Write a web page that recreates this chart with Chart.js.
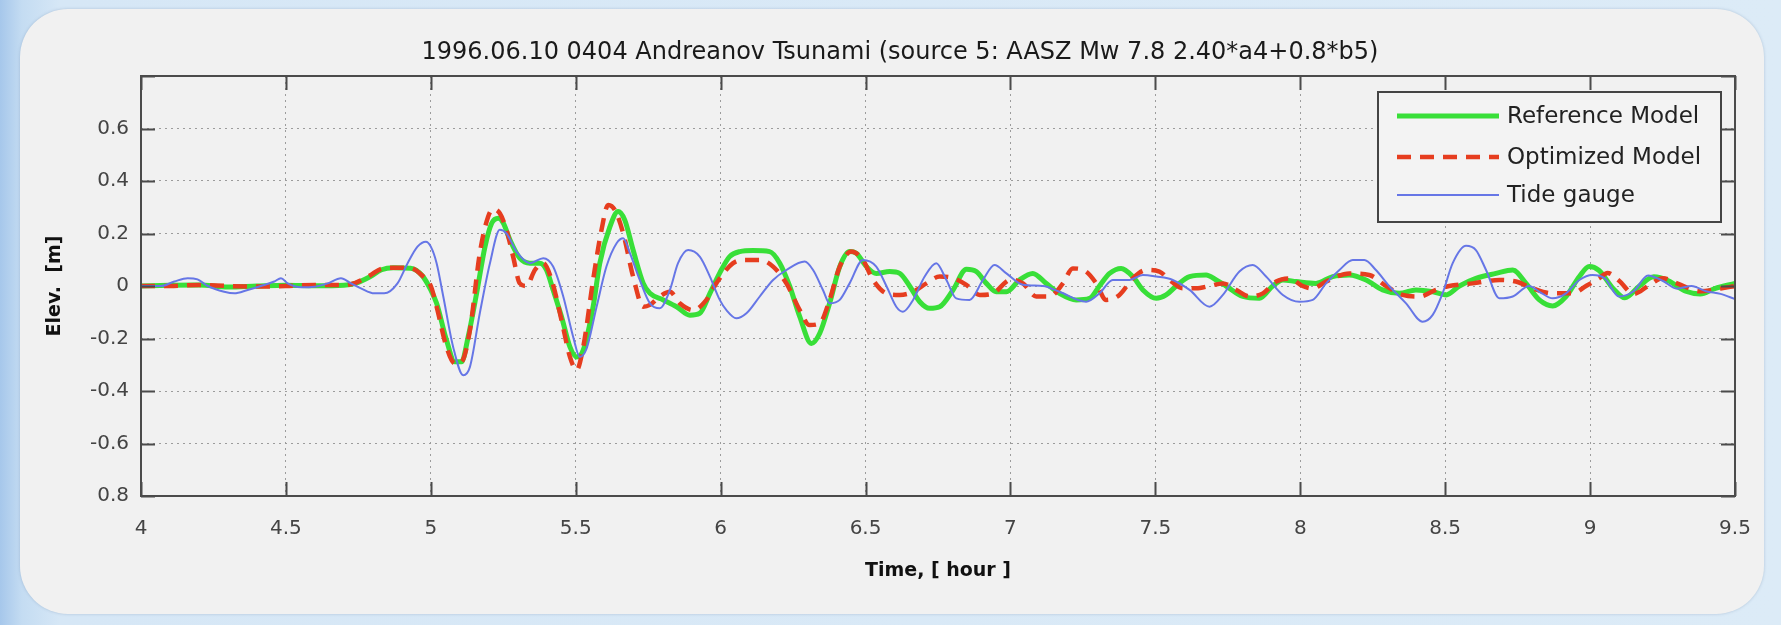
<!DOCTYPE html>
<html lang="en">

<head>
    <meta charset="UTF-8">
    <title>1996.06.10 Andreanov Tsunami</title>
    <script src="https://cdn.jsdelivr.net/npm/chart.js"></script>
    <style>
        html, body {
            margin: 0;
            padding: 0;
            width: 1781px;
            height: 625px;
            overflow: hidden;
            background: linear-gradient(to right, #a6c7eb 0px, #c4dcf2 22px, #d6e7f6 60px, #dcebf7 100%);
        }

        #panel {
            position: absolute;
            left: 20px;
            top: 9px;
            width: 1744px;
            height: 605px;
            border-radius: 48px;
            background: #f1f1f1;
            box-shadow: 0 0 3px rgba(90, 120, 160, 0.35);
        }

        #chart {
            position: absolute;
            left: 0;
            top: 0;
        }
    </style>
</head>

<body>
    <div id="panel"></div>
    <canvas id="chart" width="1781" height="625"></canvas>

    <script>
        // title / labels
        const chartTitle = '1996.06.10 0404 Andreanov Tsunami (source 5: AASZ Mw 7.8 2.40*a4+0.8*b5)';
        const seriesNames = ['Reference Model', 'Optimized Model', 'Tide gauge'];

        // axis ticks
        const xTickValues = [4, 4.5, 5, 5.5, 6, 6.5, 7, 7.5, 8, 8.5, 9, 9.5];
        const xTickLabels = ['4', '4.5', '5', '5.5', '6', '6.5', '7', '7.5', '8', '8.5', '9', '9.5'];
        const yTickValues = [-0.8, -0.6, -0.4, -0.2, 0, 0.2, 0.4, 0.6, 0.8];
        const yTickLabels = ['0.8', '-0.6', '-0.4', '-0.2', '0', '0.2', '0.4', '0.6', ''];

        // Reference Model (green)
        const refTime = [4.0, 4.1, 4.2, 4.3, 4.4, 4.5, 4.6, 4.7, 4.74, 4.79, 4.83, 4.87, 4.93, 4.97, 5.0,
            5.02, 5.054, 5.083, 5.106, 5.129, 5.158, 5.187, 5.21, 5.233, 5.25, 5.273, 5.307, 5.342, 5.376,
            5.399, 5.422, 5.451, 5.48, 5.503, 5.526, 5.56, 5.583, 5.618, 5.646, 5.669, 5.698, 5.733, 5.756,
            5.802, 5.848, 5.894, 5.928, 5.963, 5.997, 6.031, 6.066, 6.112, 6.169, 6.204, 6.238, 6.273, 6.313,
            6.342, 6.376, 6.411, 6.445, 6.468, 6.503, 6.537, 6.583, 6.618, 6.652, 6.687, 6.721, 6.756, 6.802,
            6.848, 6.882, 6.917, 6.951, 6.986, 7.031, 7.077, 7.123, 7.169, 7.227, 7.273, 7.307, 7.342, 7.382,
            7.422, 7.457, 7.503, 7.537, 7.572, 7.618, 7.675, 7.71, 7.744, 7.802, 7.859, 7.905, 7.94, 7.986,
            8.054, 8.112, 8.169, 8.227, 8.284, 8.342, 8.399, 8.457, 8.503, 8.549, 8.606, 8.675, 8.733, 8.779,
            8.825, 8.871, 8.917, 8.963, 8.997, 9.03, 9.08, 9.12, 9.17, 9.22, 9.27, 9.33, 9.38, 9.43, 9.5];
        const refElev = [0, 0.003, 0.004, -0.004, 0, 0.003, 0.001, 0.003, 0.01, 0.035, 0.062, 0.07, 0.068, 0.04, -0.015,
            -0.066, -0.206, -0.289, -0.289, -0.193, -0.028, 0.15, 0.239, 0.258, 0.24, 0.176, 0.106, 0.087, 0.087,
            0.061, -0.015, -0.117, -0.232, -0.27, -0.244, -0.079, 0.087, 0.226, 0.284, 0.252, 0.137, 0.01, -0.028,
            -0.053, -0.079, -0.111, -0.104, -0.028, 0.05, 0.112, 0.131, 0.135, 0.131, 0.087, 0, -0.117, -0.219,
            -0.18, -0.066, 0.074, 0.131, 0.125, 0.074, 0.048, 0.055, 0.048, 0, -0.06, -0.085, -0.079, -0.015,
            0.064, 0.055, 0.01, -0.022, -0.022, 0.023, 0.048, 0.01, -0.028, -0.053, -0.047, 0, 0.048, 0.067,
            0.036, -0.015, -0.047, -0.034, 0, 0.036, 0.042, 0.023, 0, -0.04, -0.047, 0, 0.023, 0.017,
            0.01, 0.036, 0.042, 0.023, -0.015, -0.028, -0.015, -0.022, -0.034, 0, 0.029, 0.048, 0.061, 0.01,
            -0.053, -0.076, -0.04, 0.036, 0.074, 0.06, -0.01, -0.045, 0, 0.035, 0.02, -0.02, -0.03, -0.01, 0.01];

        // Optimized Model (red dashed)
        const optTime = [4.0, 4.1, 4.2, 4.3, 4.4, 4.5, 4.6, 4.7, 4.74, 4.79, 4.83, 4.87, 4.93, 4.97, 5.0,
            5.02, 5.054, 5.083, 5.106, 5.135, 5.169, 5.198, 5.215, 5.238, 5.261, 5.284, 5.307, 5.33, 5.359,
            5.388, 5.417, 5.451, 5.48, 5.503, 5.526, 5.56, 5.589, 5.612, 5.635, 5.664, 5.698, 5.733, 5.756,
            5.79, 5.825, 5.859, 5.905, 5.951, 5.985, 6.043, 6.089, 6.135, 6.181, 6.227, 6.273, 6.307, 6.342,
            6.376, 6.411, 6.451, 6.491, 6.526, 6.572, 6.618, 6.664, 6.71, 6.756, 6.802, 6.848, 6.894, 6.94,
            6.986, 7.0, 7.043, 7.089, 7.135, 7.181, 7.215, 7.261, 7.296, 7.33, 7.376, 7.422, 7.468, 7.514,
            7.549, 7.595, 7.641, 7.687, 7.733, 7.779, 7.825, 7.871, 7.917, 7.963, 8.008, 8.043, 8.089, 8.169,
            8.238, 8.296, 8.353, 8.411, 8.468, 8.514, 8.595, 8.687, 8.744, 8.802, 8.871, 8.94, 8.986, 9.031,
            9.06, 9.1, 9.15, 9.2, 9.25, 9.3, 9.38, 9.45, 9.5];
        const optElev = [0, 0, 0.004, 0, -0.002, 0, 0.004, 0.004, 0.012, 0.04, 0.066, 0.07, 0.068, 0.04, 0,
            -0.079, -0.232, -0.295, -0.289, -0.168, 0.125, 0.265, 0.293, 0.277, 0.214, 0.112, 0.01, 0, 0.061,
            0.087, 0.023, -0.13, -0.27, -0.32, -0.232, 0.023, 0.214, 0.309, 0.29, 0.2, 0.036, -0.079, -0.072,
            -0.04, -0.022, -0.066, -0.092, -0.053, 0.01, 0.087, 0.099, 0.099, 0.074, 0.01, -0.092, -0.149, -0.142,
            -0.053, 0.074, 0.131, 0.099, 0.023, -0.028, -0.034, -0.022, 0.01, 0.036, 0.03, 0.004, -0.034, -0.028,
            0.017, 0.025, 0.01, -0.04, -0.04, 0.01, 0.067, 0.055, 0.01, -0.053, -0.034, 0.029, 0.061, 0.055,
            0.023, -0.009, -0.009, 0, 0.01, -0.015, -0.04, -0.028, 0.017, 0.029, 0, -0.009, 0.017, 0.048,
            0.042, 0, -0.034, -0.04, -0.015, 0, 0.01, 0.023, 0.017, -0.009, -0.028, -0.028, 0, 0.029,
            0.05, 0.02, -0.03, 0, 0.03, 0.01, -0.02, -0.01, 0];

        // Tide gauge (blue)
        const tideTime = [4.0, 4.069, 4.115, 4.161, 4.195, 4.23, 4.287, 4.322, 4.368, 4.414, 4.46, 4.483, 4.506,
            4.552, 4.598, 4.644, 4.69, 4.724, 4.759, 4.805, 4.839, 4.885, 4.92, 4.954, 4.983, 5.0, 5.02, 5.043,
            5.077, 5.112, 5.135, 5.169, 5.204, 5.238, 5.261, 5.296, 5.342, 5.388, 5.422, 5.457, 5.491, 5.514,
            5.537, 5.572, 5.606, 5.641, 5.664, 5.687, 5.721, 5.756, 5.79, 5.825, 5.853, 5.888, 5.928, 5.963,
            5.997, 6.02, 6.054, 6.089, 6.135, 6.181, 6.227, 6.29, 6.319, 6.353, 6.376, 6.411, 6.445, 6.491,
            6.537, 6.572, 6.606, 6.629, 6.664, 6.704, 6.744, 6.779, 6.813, 6.859, 6.905, 6.945, 6.986, 7.043,
            7.112, 7.169, 7.261, 7.307, 7.353, 7.411, 7.457, 7.503, 7.56, 7.618, 7.687, 7.733, 7.79, 7.836,
            7.882, 7.94, 7.997, 8.043, 8.089, 8.135, 8.181, 8.221, 8.261, 8.307, 8.365, 8.422, 8.457, 8.491,
            8.526, 8.572, 8.606, 8.641, 8.687, 8.733, 8.79, 8.825, 8.871, 8.917, 8.963, 9.008, 9.05, 9.1,
            9.15, 9.2, 9.25, 9.3, 9.35, 9.4, 9.45, 9.5];
        const tideElev = [0, 0, 0.017, 0.03, 0.025, 0, -0.022, -0.028, -0.015, 0, 0.017, 0.03, 0.01,
            -0.005, -0.003, 0.01, 0.03, 0.01, -0.009, -0.028, -0.028, 0.01, 0.087, 0.15, 0.169, 0.15, 0.087, -0.04,
            -0.232, -0.34, -0.308, -0.104, 0.087, 0.214, 0.2, 0.131, 0.087, 0.106, 0.074, -0.04, -0.193, -0.27,
            -0.24, -0.079, 0.074, 0.163, 0.182, 0.125, 0.023, -0.066, -0.085, -0.015, 0.087, 0.137, 0.112, 0.036,
            -0.053, -0.092, -0.123, -0.104, -0.04, 0.023, 0.061, 0.093, 0.061, -0.015, -0.066, -0.053, 0.01, 0.099,
            0.074, 0, -0.079, -0.098, -0.053, 0.036, 0.087, 0.023, -0.047, -0.053, 0.023, 0.08, 0.048, 0.005,
            0, -0.022, -0.06, -0.028, 0.023, 0.023, 0.042, 0.036, 0.023, -0.015, -0.079, -0.034, 0.055, 0.08,
            0.036, -0.034, -0.06, -0.053, 0.01, 0.061, 0.099, 0.099, 0.061, 0, -0.066, -0.136, -0.11, -0.028,
            0.087, 0.153, 0.137, 0.061, -0.047, -0.04, 0, -0.022, -0.047, -0.028, 0.023, 0.042, 0.03, -0.04,
            -0.02, 0.04, 0.02, -0.01, 0, -0.02, -0.03, -0.05];

        // 把時間和數值組成點
        function toPoints(times, values) {
            return times.map((t, i) => ({ x: t, y: values[i] }));
        }

        const FONT = '"DejaVu Sans", "Liberation Sans", sans-serif';

        // 外框、內向刻度、標題、圖例
        const matlabFrame = {
            id: 'matlabFrame',
            afterDatasetsDraw(chart) {
                const { ctx, chartArea: a, scales: { x, y } } = chart;
                ctx.save();
                ctx.strokeStyle = '#4b4b4b';
                ctx.lineWidth = 2;
                ctx.setLineDash([]);
                ctx.strokeRect(a.left, a.top, a.right - a.left, a.bottom - a.top);

                const tick = 14;
                ctx.beginPath();
                xTickValues.forEach(v => {
                    const px = Math.round(x.getPixelForValue(v)) + 0.5;
                    ctx.moveTo(px, a.bottom); ctx.lineTo(px, a.bottom - tick);
                    ctx.moveTo(px, a.top); ctx.lineTo(px, a.top + tick);
                });
                yTickValues.forEach(v => {
                    const py = Math.round(y.getPixelForValue(v)) + 0.5;
                    ctx.moveTo(a.left, py); ctx.lineTo(a.left + tick, py);
                    ctx.moveTo(a.right, py); ctx.lineTo(a.right - tick, py);
                });
                ctx.stroke();

                // legend box
                const box = { left: 1378, top: 92, right: 1721, bottom: 222 };
                ctx.fillStyle = '#f3f3f3';
                ctx.fillRect(box.left, box.top, box.right - box.left, box.bottom - box.top);
                ctx.strokeStyle = '#444';
                ctx.lineWidth = 2;
                ctx.strokeRect(box.left, box.top, box.right - box.left, box.bottom - box.top);

                const rowY = [116, 157, 195];
                chart.data.datasets.forEach((ds, i) => {
                    ctx.beginPath();
                    ctx.strokeStyle = ds.borderColor;
                    ctx.lineWidth = ds.borderWidth;
                    ctx.setLineDash(ds.borderDash || []);
                    ctx.moveTo(1397, rowY[i]);
                    ctx.lineTo(1499, rowY[i]);
                    ctx.stroke();
                    ctx.setLineDash([]);
                    ctx.fillStyle = '#222';
                    ctx.font = '23px ' + FONT;
                    ctx.textAlign = 'left';
                    ctx.textBaseline = 'middle';
                    ctx.fillText(ds.label, 1507, rowY[i] + 1);
                });
                ctx.restore();
            },
            afterDraw(chart) {
                const ctx = chart.ctx;
                ctx.save();
                ctx.fillStyle = '#1a1a1a';
                ctx.font = '24px ' + FONT;
                ctx.textAlign = 'center';
                ctx.textBaseline = 'middle';
                ctx.fillText(chartTitle, 900, 53);
                ctx.restore();
            }
        };

        const ctx = document.getElementById('chart').getContext('2d');
        new Chart(ctx, {
            type: 'line',
            data: {
                datasets: [{
                    label: seriesNames[0],
                    data: toPoints(refTime, refElev),
                    borderColor: '#38df38',
                    borderWidth: 5,
                    order: 2
                }, {
                    label: seriesNames[1],
                    data: toPoints(optTime, optElev),
                    borderColor: '#e63d1f',
                    borderWidth: 4.5,
                    borderDash: [14, 9],
                    order: 1
                }, {
                    label: seriesNames[2],
                    data: toPoints(tideTime, tideElev),
                    borderColor: '#6676e6',
                    borderWidth: 2,
                    order: 0
                }]
            },
            options: {
                responsive: false,
                animation: false,
                devicePixelRatio: 1,
                elements: {
                    point: { radius: 0 },
                    line: { cubicInterpolationMode: 'monotone', borderCapStyle: 'butt' }
                },
                layout: { padding: { top: 76, right: 46, left: 20, bottom: 40 } },
                plugins: {
                    legend: { display: false },
                    title: { display: false },
                    tooltip: { enabled: false }
                },
                scales: {
                    x: {
                        type: 'linear',
                        min: 4,
                        max: 9.5,
                        afterBuildTicks: s => { s.ticks = xTickValues.map(v => ({ value: v })); },
                        afterFit: s => { s.height = 89; },
                        ticks: {
                            padding: 21,
                            color: '#444',
                            font: { family: FONT, size: 20 },
                            maxRotation: 0,
                            callback: (v, i) => xTickLabels[i]
                        },
                        grid: { color: '#9c9c9c', lineWidth: 1, drawTicks: false },
                        border: { display: false, dash: [2, 4] },
                        title: {
                            display: true,
                            text: 'Time, [ hour ]',
                            color: '#111',
                            font: { family: FONT, size: 19, weight: 'bold' },
                            padding: { top: 0, bottom: 3 }
                        }
                    },
                    y: {
                        min: -0.8,
                        max: 0.8,
                        afterBuildTicks: s => { s.ticks = yTickValues.map(v => ({ value: v })); },
                        afterFit: s => { s.width = 121; },
                        ticks: {
                            padding: 12,
                            color: '#444',
                            font: { family: FONT, size: 20 },
                            callback: (v, i) => yTickLabels[i]
                        },
                        grid: { color: '#9c9c9c', lineWidth: 1, drawTicks: false },
                        border: { display: false, dash: [2, 4] },
                        title: {
                            display: true,
                            text: 'Elev.  [m]',
                            color: '#111',
                            font: { family: FONT, size: 19, weight: 'bold' },
                            padding: { top: 24, bottom: 0 }
                        }
                    }
                }
            },
            plugins: [matlabFrame]
        });
    </script>
</body>

</html>
